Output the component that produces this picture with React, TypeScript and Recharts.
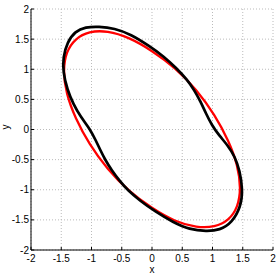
import { CartesianGrid, Line, LineChart, XAxis, YAxis } from "recharts";

const TICKS = [-2, -1.5, -1, -0.5, 0, 0.5, 1, 1.5, 2];

// red ellipse, points
const redX = [1.47, 1.42, 1.27, 1.04, 0.74, 0.38, 0, -0.38, -0.74, -1.04, -1.27, -1.42, -1.47, -1.42, -1.27, -1.04, -0.74, -0.38, 0, 0.38, 0.74, 1.04, 1.27, 1.42];
const redY = [-0.98, -0.6, -0.19, 0.24, 0.66, 1.03, 1.31, 1.53, 1.64, 1.63, 1.51, 1.29, 0.98, 0.6, 0.19, -0.24, -0.66, -1.03, -1.31, -1.53, -1.63, -1.62, -1.51, -1.29];

// black (wobbly) curve, clockwise from the top
const blackX = [-0.88, -0.62, -0.35, -0.05, 0.2, 0.4, 0.58, 0.7, 0.8, 0.89, 0.99, 1.11, 1.25, 1.37, 1.45, 1.5, 1.47, 1.32, 1.12, 0.9, 0.62, 0.35, 0.05, -0.2, -0.4, -0.53, -0.67, -0.77, -0.85, -0.93, -1.02, -1.18, -1.3, -1.4, -1.47, -1.47, -1.4, -1.27, -1.1];
const blackY = [1.71, 1.68, 1.58, 1.39, 1.21, 1.02, 0.83, 0.65, 0.47, 0.27, 0.07, -0.1, -0.26, -0.45, -0.68, -1.0, -1.28, -1.55, -1.67, -1.69, -1.66, -1.54, -1.36, -1.18, -1.01, -0.86, -0.67, -0.51, -0.35, -0.18, 0.0, 0.21, 0.42, 0.66, 0.95, 1.2, 1.45, 1.63, 1.7];

const pts = (xs: number[], ys: number[]) => xs.map((x, i) => ({ x, y: ys[i] }));

const FONT = "Liberation Sans, Arial, sans-serif";
const TICK = { fill: "#000", fontSize: 10, fontFamily: FONT };

export default function App() {
  return (
    <div style={{ position: "absolute", left: 0, top: 0, width: 277, height: 277, background: "#fff" }}>
      <LineChart width={277} height={277} margin={{ top: 9, right: 4, bottom: 0, left: 0 }}>
        <CartesianGrid stroke="#bbb" strokeDasharray="1 2" />
        <XAxis
          type="number"
          dataKey="x"
          domain={[-2, 2]}
          ticks={TICKS}
          interval={0}
          height={27}
          tick={TICK}
          tickSize={-3}
          tickMargin={8}
          stroke="#000"
          label={{ value: "x", position: "insideBottom", offset: 4, fontSize: 10, fill: "#000", fontFamily: FONT }}
        />
        <YAxis
          type="number"
          dataKey="y"
          domain={[-2, 2]}
          ticks={TICKS}
          interval={0}
          width={31}
          tick={TICK}
          tickSize={-3}
          tickMargin={5}
          stroke="#000"
          label={{ value: "y", angle: -90, position: "insideLeft", offset: 5, fontSize: 10, fill: "#000", fontFamily: FONT }}
        />
        <XAxis xAxisId="top" orientation="top" type="number" domain={[-2, 2]} ticks={TICKS} height={0} tick={false} tickSize={-3} stroke="#000" />
        <YAxis yAxisId="right" orientation="right" type="number" domain={[-2, 2]} ticks={TICKS} width={0} tick={false} tickSize={-3} stroke="#000" />
        <Line
          data={pts(redX, redY)}
          dataKey="y"
          type="basisClosed"
          stroke="#ff0000"
          strokeWidth={2.3}
          dot={false}
          isAnimationActive={false}
        />
        <Line
          data={pts(blackX, blackY)}
          dataKey="y"
          type="basisClosed"
          stroke="#000"
          strokeWidth={2.7}
          dot={false}
          isAnimationActive={false}
        />
      </LineChart>
    </div>
  );
}
